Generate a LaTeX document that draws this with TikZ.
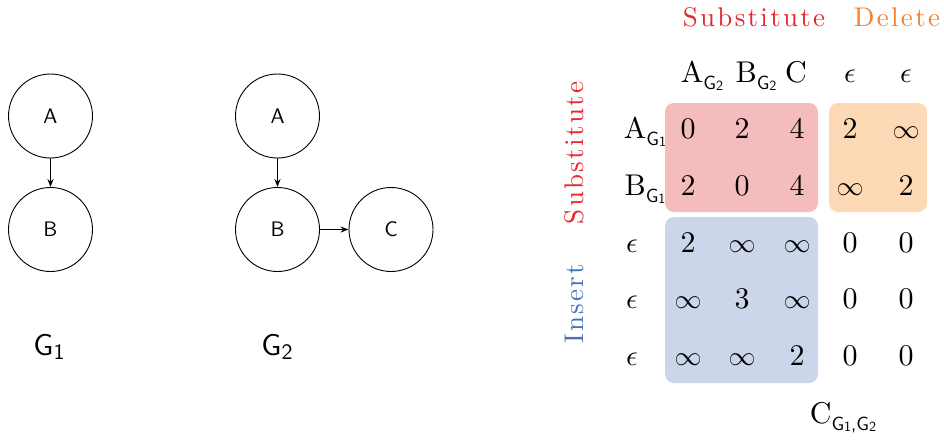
\documentclass[tikz,border=0pt]{standalone}
\usepackage{graphicx}
\usepackage{fontspec}
\newfontfamily\headfont{lmroman10-regular}[Extension=.otf]
\newfontfamily\labelfont{lmsans10-regular}[Extension=.otf]
\usetikzlibrary{arrows.meta}
\definecolor{subred}{RGB}{232,38,43}
\definecolor{delorange}{RGB}{245,128,48}
\definecolor{insblue}{RGB}{72,112,190}
\definecolor{subfill}{RGB}{244,188,188}
\definecolor{delfill}{RGB}{253,217,181}
\definecolor{insfill}{RGB}{203,214,234}
% lowered subscripts, first and second level
\newcommand\sbs[1]{\raisebox{-7pt}{\labelfont\fontsize{19}{19}\selectfont #1}}
\newcommand\sbss[1]{\raisebox{-1pt}{\fontsize{14}{14}\selectfont #1}}
% large math symbols, scaled up from the 10pt design size
\newcommand\infy{{\fontsize{10}{10}\selectfont\scalebox{2.7}{$\infty$}}}
\newcommand\eps{{\fontsize{10}{10}\selectfont\scalebox{2.9}{$\epsilon$}}}
\begin{document}
\begin{tikzpicture}[x=1pt,y=-1pt,
  vertex/.style={circle,draw,line width=0.9pt,minimum size=84pt,inner sep=0pt,
    font=\labelfont\fontsize{21}{21}\selectfont},
  edge/.style={line width=0.9pt,-{Stealth[length=8pt,width=6pt]}},
  glabel/.style={anchor=base,inner sep=0pt,font=\labelfont\fontsize{30}{30}\selectfont},
  cell/.style={anchor=base,font=\headfont\fontsize{30}{30}\selectfont,inner sep=0pt},
  block/.style={rounded corners=9pt,draw=none},
  head/.style={anchor=base,inner sep=0pt,
    font=\headfont\fontsize{27}{27}\selectfont\addfontfeature{LetterSpace=8.5}}]
\useasboundingbox (0,0) rectangle (944,439);

% graph G1
\node[vertex] (a1) at (50.5,116) {A};
\node[vertex] (b1) at (50.5,229.5) {B};
\draw[edge] (a1) -- (b1);
\node[glabel] (g1) at (49,355) {G\raisebox{-4pt}{\fontsize{22}{22}\selectfont 1}};

% graph G2
\node[vertex] (a2) at (277.5,116) {A};
\node[vertex] (b2) at (277.5,229.5) {B};
\node[vertex] (c2) at (391,229.5) {C};
\draw[edge] (a2) -- (b2);
\draw[edge] (b2) -- (c2);
\node[glabel] (g2) at (277,355) {G\raisebox{-4pt}{\fontsize{22}{22}\selectfont 2}};

% cost matrix blocks
\fill[block,subfill] (665,103) rectangle (818,212);
\fill[block,delfill] (829,103) rectangle (927,212);
\fill[block,insfill] (665,217) rectangle (818,383);

% block labels
\node[head,text=subred] (hsub) at (754,27) {Substitute};
\node[head,text=delorange] (hdel) at (897,27) {Delete};
\node[head,text=subred,rotate=90] (vsub) at (583,153) {Substitute};
\node[head,text=insblue,rotate=90] (vins) at (583,304) {Insert};

% column headers
\node[cell] (c1) at (702,82) {A\sbs{G\sbss{2}}};
\node[cell] (c2) at (756,82) {B\sbs{G\sbss{2}}};
\node[cell] (c3) at (796,82) {C};
\node[cell] (c4) at (850,82) {\eps};
\node[cell] (c5) at (906,82) {\eps};

% row headers
\node[cell] (r1) at (645,138) {A\sbs{G\sbss{1}}};
\node[cell] (r2) at (645,195) {B\sbs{G\sbss{1}}};
\node[cell] (r3) at (632,252) {\eps};
\node[cell] (r4) at (632,308) {\eps};
\node[cell] (r5) at (632,365) {\eps};

% entries
\foreach \row/\y/\e in {1/138/{0,2,4,2,\infy},
                        2/195/{2,0,4,\infy,2},
                        3/252/{2,\infy,\infy,0,0},
                        4/308/{\infy,3,\infy,0,0},
                        5/365/{\infy,\infy,2,0,0}}{
  \foreach \v [count=\col] in \e {
    \pgfmathsetmacro{\xx}{{688,742,797,850,906}[\col-1]}
    \node[cell] (m\row\col) at (\xx,\y) {\v};
  }
}

\node[cell] (cname) at (843,423) {C\sbs{G\sbss{1},G\sbss{2}}};
\end{tikzpicture}
\end{document}
